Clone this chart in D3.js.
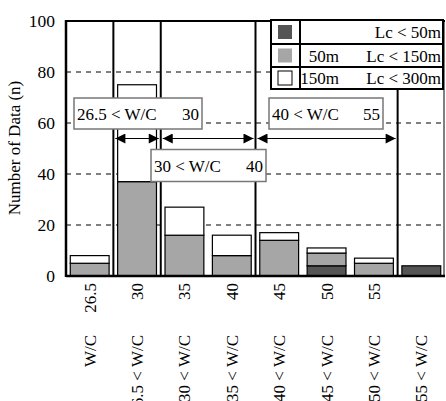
<!DOCTYPE html>
<html>
<head>
<meta charset="utf-8">
<script src="https://cdnjs.cloudflare.com/ajax/libs/d3/7.8.5/d3.min.js"></script>
<style>
  body { margin: 0; background: #fff; }
</style>
</head>
<body>
<script>
// upper bound label and lower-range label for each W/C class
const upperLabels = ["26.5", "30", "35", "40", "45", "50", "55", ""];
const lowerLabels = ["W/C", "26.5 < W/C", "30 < W/C", "35 < W/C", "40 < W/C", "45 < W/C", "50 < W/C", "55 < W/C"];
// counts per crack length class
const lcShort = [0, 0, 0, 0, 0, 4, 0, 4];     // Lc < 50m
const lcMid   = [5, 37, 16, 8, 14, 5, 5, 0];   // 50m - 150m
const lcLong  = [3, 38, 11, 8, 3, 2, 2, 0];    // 150m - 300m
const yTicks = [0, 20, 40, 60, 80, 100];

const W = 446, H = 401;
const pLeft = 66, pRight = 445, pTop = 21, pBottom = 276;
const colors = ["#555555", "#a6a6a6", "#ffffff"];

const svg = d3.select("body").append("svg").attr("width", W).attr("height", H)
    .style("display", "block");

// every text goes through this so the serif family is set on the element itself
function txt(sel, size) {
  return sel.append("text").attr("font-family", "serif").attr("font-size", size);
}

const x = d3.scaleBand().domain(d3.range(8)).range([pLeft, pRight])
    .paddingInner(0.18).paddingOuter(0.09);
const y = d3.scaleLinear().domain([0, 100]).range([pBottom, pTop]);
const step = x.step();

// dashed grid
svg.append("g").selectAll("line").data(yTicks.slice(1, 5)).enter().append("line")
    .attr("x1", pLeft).attr("x2", pRight)
    .attr("y1", d => y(d)).attr("y2", d => y(d))
    .attr("stroke", "#000").attr("stroke-width", 1).attr("stroke-dasharray", "5,5");

// stacked bars
const rows = d3.range(8).map(i => ({i: i, a: lcShort[i], b: lcMid[i], c: lcLong[i]}));
const stack = d3.stack().keys(["a", "b", "c"])(rows);
svg.append("g").selectAll("g").data(stack).enter().append("g")
    .attr("fill", (d, k) => colors[k])
    .selectAll("rect").data(d => d.filter(s => s[1] > s[0])).enter().append("rect")
    .attr("x", d => x(d.data.i)).attr("width", x.bandwidth())
    .attr("y", d => y(d[1])).attr("height", d => y(d[0]) - y(d[1]))
    .attr("stroke", "#000").attr("stroke-width", 1.2);

// range separators
const sep = i => x(i) - step * x.paddingInner() / 2;
const sepLines = [[1, pTop], [2, pTop], [4, pTop], [7, 89]];
svg.append("g").selectAll("line").data(sepLines).enter().append("line")
    .attr("x1", d => sep(d[0])).attr("x2", d => sep(d[0]))
    .attr("y1", d => d[1]).attr("y2", pBottom)
    .attr("stroke", "#000").attr("stroke-width", 2);

// arrows
const defs = svg.append("defs");
defs.append("marker").attr("id", "ah").attr("viewBox", "0 0 10 10")
    .attr("refX", 10).attr("refY", 5).attr("markerWidth", 14).attr("markerHeight", 10)
    .attr("markerUnits", "userSpaceOnUse").attr("orient", "auto-start-reverse")
    .append("path").attr("d", "M0,0L10,5L0,10Z").attr("fill", "#000");
const arrowY = 138.5;
[[1, 2], [2, 4], [4, 7]].forEach(p => {
  svg.append("line")
    .attr("x1", sep(p[0]) + 2).attr("x2", sep(p[1]) - 2)
    .attr("y1", arrowY).attr("y2", arrowY)
    .attr("stroke", "#000").attr("stroke-width", 1)
    .attr("marker-start", "url(#ah)").attr("marker-end", "url(#ah)");
});

// range boxes
const boxes = [
  {x: 74, y: 98, w: 128, h: 31, a: "26.5 < W/C", b: "30"},
  {x: 269, y: 98, w: 114, h: 31, a: "40 < W/C", b: "55"},
  {x: 151, y: 149.5, w: 115, h: 32, a: "30 < W/C", b: "40"}
];
boxes.forEach(b => {
  svg.append("rect").attr("x", b.x).attr("y", b.y).attr("width", b.w).attr("height", b.h)
    .attr("fill", "#fff").attr("stroke", "#777").attr("stroke-width", 1.5);
  txt(svg, 17).attr("x", b.x + 3).attr("y", b.y + b.h / 2 + 6).text(b.a);
  txt(svg, 17).attr("x", b.x + b.w - 3).attr("y", b.y + b.h / 2 + 6)
    .attr("text-anchor", "end").text(b.b);
});

// frame and axes
svg.append("line").attr("x1", pLeft).attr("x2", pRight).attr("y1", pTop).attr("y2", pTop)
    .attr("stroke", "#000").attr("stroke-width", 2);
svg.append("line").attr("x1", pRight - 1).attr("x2", pRight - 1).attr("y1", pTop).attr("y2", pBottom)
    .attr("stroke", "#000").attr("stroke-width", 1);
svg.append("line").attr("x1", pLeft).attr("x2", pRight).attr("y1", pBottom).attr("y2", pBottom)
    .attr("stroke", "#000").attr("stroke-width", 2.5);
svg.append("line").attr("x1", pLeft).attr("x2", pLeft).attr("y1", pTop - 1).attr("y2", pBottom + 1)
    .attr("stroke", "#000").attr("stroke-width", 2.5);

// y tick labels
const yl = svg.append("g");
yTicks.forEach(d => {
  txt(yl, 17.5).attr("x", 55).attr("y", y(d) + 5.5).attr("text-anchor", "end").text(d);
});
txt(svg, 17).attr("transform", "translate(20,148) rotate(-90)")
    .attr("text-anchor", "middle").text("Number of Data (n)");

// x labels
const xl = svg.append("g");
upperLabels.forEach((d, i) => {
  txt(xl, 17).attr("transform", "translate(" + (x(i) + x.bandwidth() / 2 + 6) + ",283) rotate(-90)")
    .attr("text-anchor", "end").text(d);
});
lowerLabels.forEach((d, i) => {
  txt(xl, 17).attr("transform", "translate(" + (x(i) + x.bandwidth() / 2 + 6) + ",335) rotate(-90)")
    .attr("text-anchor", "end").text(d);
});

// legend
const lg = svg.append("g");
const lgX = 271, lgW = 172, lgDiv = 300, rowY = [20, 44, 67, 89];
lg.append("rect").attr("x", lgX).attr("y", rowY[0]).attr("width", lgW).attr("height", rowY[3] - rowY[0])
    .attr("fill", "#fff").attr("stroke", "#000").attr("stroke-width", 2);
lg.selectAll(".hl").data(rowY.slice(1, 3)).enter().append("line")
    .attr("x1", lgX).attr("x2", lgX + lgW).attr("y1", d => d).attr("y2", d => d)
    .attr("stroke", "#000").attr("stroke-width", 2);
lg.append("line").attr("x1", lgDiv).attr("x2", lgDiv).attr("y1", rowY[0]).attr("y2", rowY[3])
    .attr("stroke", "#000").attr("stroke-width", 2);
const legendFrom = ["", "50m", "150m"];
const legendTo = ["Lc < 50m", "Lc < 150m", "Lc < 300m"];
d3.range(3).forEach(k => {
  const cy = (rowY[k] + rowY[k + 1]) / 2;
  lg.append("rect").attr("x", 278).attr("y", cy - 7).attr("width", 14).attr("height", 14)
    .attr("fill", colors[k]).attr("stroke", k === 2 ? "#000" : "none").attr("stroke-width", 1);
  txt(lg, 17).attr("x", 339).attr("y", cy + 6).attr("text-anchor", "end").text(legendFrom[k]);
  txt(lg, 17).attr("x", 441).attr("y", cy + 6).attr("text-anchor", "end").text(legendTo[k]);
});
</script>
</body>
</html>
